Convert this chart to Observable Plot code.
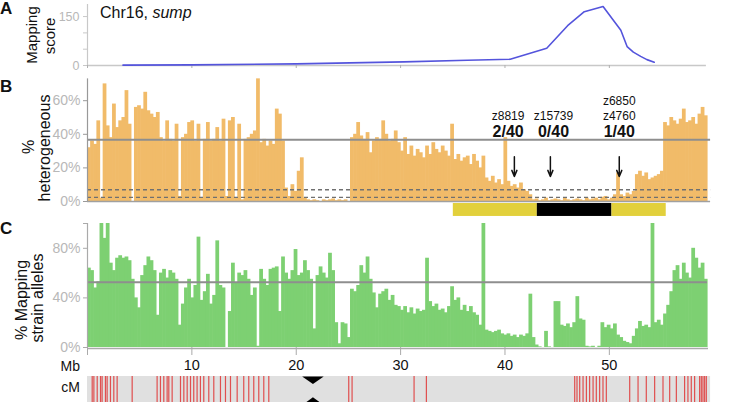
<!DOCTYPE html>
<html><head><meta charset="utf-8">
<script src="https://cdn.jsdelivr.net/npm/d3@7"></script>
<script src="https://cdn.jsdelivr.net/npm/@observablehq/plot@0.6"></script>
<style>
body{margin:0;background:#fff;}
#fig{position:relative;width:732px;height:402px;overflow:hidden;font-family:"Liberation Sans",Arial,Helvetica,sans-serif;}
#fig svg{position:absolute;left:0;}
</style></head><body><div id="fig"></div>
<script>
// ---------- data ----------
const binWidth = 0.3;          // Mb per bar
const chrLengthMb = 59.5;
const mbTicks = [0, 10, 20, 30, 40, 50];

// A: mapping score
const scoreMb  = [3.4, 10, 20, 30.3, 36.4, 40.5, 44.0, 46.0, 47.6, 49.4, 51.1, 51.7, 52.3, 53.0, 53.6, 54.3];
const scoreVal = [1, 2, 5, 11, 16, 19, 53, 122, 165, 181, 108, 58, 41, 28, 18, 10];
const scoreTicks = [0, 50, 100, 150];
const scoreLabels = [0, 150];

// B: % heterogeneous (one value per 0.3 Mb bin)
const hetValues = [
 32,36,34,48,2,70,45,38,58,44,
 48,50,66,46,0,56,57,55,65,54,
 52,50,53,38,36,48,37,36,46,3,
 38,40,47,48,36,46,2,37,47,36,
 37,44,36,49,3,48,50,2,46,1,
 37,38,40,42,73,35,37,33,36,34,
 55,52,36,8,3,10,6,18,26,2,
 1,0.5,1,0.5,0,1,0.5,1,1.5,0.5,
 1,0.5,1,0,38,40,47,39,37,41,
 29,36,38,37,48,40,36,37,42,35,
 30,38,28,33,27,31,29,26,33,28,
 35,31,29,33,30,27,46,25,28,24,
 26,27,22,28,24,20,27,14,12,15,
 11,13,10,38,12,9,10,8,11,7,
 6,4,1,1.5,0.5,1,2,0.5,1,1.5,
 1,0.5,2,1,0.5,1,1.5,1,0.5,2,
 1,1.5,2,1,2.5,3,1,2,4,17,
 4,3,5,4,6,16,18,15,17,13,
 14,15,16,18,47,45,50,48,46,49,
 55,47,48,50,46,52,56,51];
const hetThreshold = [36.8];
const hetDashed = [7, 2.5];
const hetTicks = [0, 20, 40, 60];

// critical interval bar
const intervalStart = [35.05, 43.1, 50.25];
const intervalEnd   = [43.1, 50.25, 55.45];
const intervalColor = ["#e2d03c", "#000000", "#e2d03c"];

// markers
const markerNames  = ["z8819", "z15739", "z6850\nz4760"];
const markerRatios = ["2/40", "0/40", "1/40"];
const markerTextMb = [40.3, 44.65, 50.95];
const markerArrowMb = [40.9, 44.35, 50.95];

// C: % mapping strain alleles
const mapValues = [
 64,62,48,53,100,88,100,68,62,72,
 74,72,73,70,55,40,32,58,66,73,
 70,62,26,60,63,56,62,60,55,18,
 35,48,55,40,50,89,38,45,59,35,
 42,86,50,48,0,29,68,52,60,58,
 62,55,42,48,1,63,55,50,63,64,
 65,29,73,60,55,62,79,58,60,70,
 62,55,15,58,65,60,56,76,62,20,
 3,20,19,8,47,45,50,66,60,73,
 55,44,32,43,45,47,38,42,34,33,
 30,33,28,32,27,31,29,30,72,37,
 33,35,30,31,28,33,49,38,40,30,
 34,29,33,28,26,18,100,14,13,12,
 13,14,11,10,11,9,10,8,10,9,
 11,43,8,2,0.5,0,13,0.5,0,37,
 37,18,17,19,16,20,41,23,22,1,
 0.5,1,0,1,20,16,18,15,19,10,
 8,5,4,3,9,15,21,17,18,16,
 100,20,22,18,27,34,45,62,66,55,
 68,60,56,80,72,64,68,55];
const mapThreshold = [52.7];
const mapTicks = [0, 40, 80, 100];

// cM track: recombinant marker positions (Mb) and centromere
const cmLinesMb = [0.45,0.61,0.93,1.25,1.4,1.72,1.88,2.2,2.52,2.84,4.28,6.67,6.99,7.31,7.63,7.79,8.11,
 8.91,9.23,9.55,9.87,10.18,10.5,10.82,11.14,11.62,12.1,12.74,13.22,13.7,14.34,14.97,15.45,15.93,16.41,16.89,17.37,
 25.03,25.35,31.29,32.47,46.68,46.9,47.16,47.48,47.8,48.11,48.44,48.75,49.07,49.39,49.71,
 51.95,52.75,53.54,54.34,55.14,55.78,56.42,57.21,57.53,57.85,58.17,58.65,58.81,58.97,59.13,59.29];
const centromereMb = [21.6];

// ---------- layout ----------
const W = 732, ML = 87, MR = 24;
const FONT = '"Liberation Sans", Arial, Helvetica, sans-serif';
const fig = document.getElementById("fig");
const baseStyle = {fontFamily: FONT, background: "transparent", overflow: "visible", maxWidth: "none"};
function place(svg, top) { svg.style.top = top + "px"; svg.style.position = "absolute"; fig.appendChild(svg); }
const xScale = {domain: [0, chrLengthMb], axis: null, label: null};
const overlap = 0.06; // bars touch their neighbours

// A
const scoreData = scoreMb.map((m, i) => ({mb: m, score: scoreVal[i]}));
place(Plot.plot({
  width: W, height: 70, marginLeft: ML, marginRight: MR, marginTop: 4, marginBottom: 5,
  x: xScale, y: {domain: [0, 187], axis: null, label: null}, style: baseStyle,
  marks: [
    Plot.ruleY([0], {x1: 0, x2: chrLengthMb - 0.2, stroke: "#c8c8c8", strokeWidth: 1.3}),
    Plot.ruleX([0], {y1: 0, y2: 187, stroke: "#c8c8c8", strokeWidth: 1.2}),
    Plot.axisX(mbTicks, {tickSize: 3, tickFormat: () => "", label: null, stroke: "#b0b0b0"}),
    Plot.axisY(scoreTicks, {tickSize: 4, tickPadding: 4, fontSize: 12.5, label: null,
      tickFormat: d => scoreLabels.includes(d) ? String(d) : "", stroke: "#c8c8c8", fill: "#b8b8b8"}),
    Plot.line(scoreData, {x: "mb", y: "score", stroke: "#5454dc", strokeWidth: 1.6})
  ]
}), 0);

// B
const hetData = hetValues.map((v, i) => ({x1: i * binWidth, x2: (i + 1) * binWidth + overlap, v}));
const intervals = intervalStart.map((s, i) => ({s, e: intervalEnd[i], c: intervalColor[i]}));
const markers = markerNames.map((n, i) => ({name: n, ratio: markerRatios[i], tx: markerTextMb[i], ax: markerArrowMb[i]}));
place(Plot.plot({
  width: W, height: 145, marginLeft: ML, marginRight: MR, marginTop: 0, marginBottom: 19,
  x: xScale, y: {domain: [0, 75], axis: null, label: null}, color: {type: "identity"}, style: baseStyle,
  marks: [
    Plot.rectY(hetData, {x1: "x1", x2: "x2", y: "v", fill: "#f1bb69"}),
    Plot.ruleY(hetThreshold, {x1: 0, x2: chrLengthMb + 0.2, stroke: "#8e8e8e", strokeWidth: 2}),
    Plot.ruleY(hetDashed, {x1: 0, x2: chrLengthMb + 0.2, stroke: "#707070", strokeWidth: 1.3, strokeDasharray: "4,3"}),
    Plot.ruleY([0], {x1: 0, x2: chrLengthMb + 0.2, stroke: "#a0a0a0", strokeWidth: 1.5}),
    Plot.ruleX([0], {y1: 0, y2: 73, stroke: "#999", strokeWidth: 1.2}),
    Plot.axisY(hetTicks, {tickSize: 4, tickPadding: 3, fontSize: 14, label: null, tickFormat: d => d + "%", stroke: "#999", fill: "#b8b8b8"}),
    Plot.rect(intervals, {x1: "s", x2: "e", y1: -1.2, y2: -8.9, fill: "c"}),
    Plot.text(markers, {x: "tx", y: 48.4, text: "name", lineAnchor: "bottom", lineHeight: 1.25, fontSize: 12, fill: "#111"}),
    Plot.text(markers, {x: "tx", y: 38.5, text: "ratio", lineAnchor: "bottom", fontSize: 16, fontWeight: "bold", fill: "#111"}),
    Plot.arrow(markers, {x1: "ax", x2: "ax", y1: 26.7, y2: 14.9, stroke: "#111", strokeWidth: 1.5, headLength: 7, headAngle: 45})
  ]
}), 75);

// C
const mapData = mapValues.map((v, i) => ({x1: i * binWidth, x2: (i + 1) * binWidth + overlap, v}));
place(Plot.plot({
  width: W, height: 157, marginLeft: ML, marginRight: MR, marginTop: 5, marginBottom: 28,
  x: xScale, y: {domain: [0, 100], axis: null, label: null}, style: baseStyle,
  marks: [
    Plot.rectY(mapData, {x1: "x1", x2: "x2", y: "v", fill: "#7dd072"}),
    Plot.ruleY(mapThreshold, {x1: 0, x2: chrLengthMb - 0.1, stroke: "#8e8e8e", strokeWidth: 2}),
    Plot.ruleY([0], {x1: 0, x2: chrLengthMb, stroke: "#aaa", strokeWidth: 1.5, dy: 1}),
    Plot.ruleX([0], {y1: 0, y2: 100, stroke: "#aaa", strokeWidth: 1.2}),
    Plot.axisY(mapTicks, {tickSize: 4, tickPadding: 3, fontSize: 14, label: null, tickFormat: d => d === 100 ? "" : d + "%", stroke: "#aaa", fill: "#b8b8b8"}),
    Plot.axisX(mbTicks, {tickSize: 8, tickPadding: 4, fontSize: 14.5, label: null, tickFormat: d => d === 0 ? "" : String(d), stroke: "#aaa", fill: "#111"})
  ]
}), 218);

// D: cM track
const c = centromereMb[0];
const tri = [
  {x: c - 1.03, y: 1, k: "top"}, {x: c + 1.03, y: 1, k: "top"}, {x: c, y: 0.71, k: "top"},
  {x: c - 1.03, y: -0.1, k: "bot"}, {x: c + 1.03, y: -0.1, k: "bot"}, {x: c, y: 0.2, k: "bot"}
];
place(Plot.plot({
  width: W, height: 27, marginLeft: ML, marginRight: MR, marginTop: 1, marginBottom: 0,
  x: xScale, y: {domain: [0, 1], axis: null, label: null}, style: baseStyle,
  marks: [
    Plot.rect([chrLengthMb], {x1: 0, x2: d => d + 0.2, y1: -0.2, y2: 1, fill: "#e0e0e0"}),
    Plot.ruleX(cmLinesMb, {y1: -0.2, y2: 1, stroke: "#e04f4f", strokeWidth: 1.2}),
    Plot.line(tri, {x: "x", y: "y", z: "k", fill: "#000", stroke: "none"})
  ]
}), 375);

// ---------- overlay labels ----------
const ov = d3.create("svg").attr("width", W).attr("height", 402)
  .style("top", "0px").style("font-family", FONT).style("pointer-events", "none");
function lab(x, y, t, size, opts = {}) {
  return ov.append("text").attr("x", x).attr("y", y).attr("font-size", size).attr("fill", opts.fill || "#111")
    .attr("font-weight", opts.bold ? "bold" : null).attr("text-anchor", opts.anchor || "start").text(t);
}
function vlab(x, y, t, size) {
  ov.append("text").attr("transform", `translate(${x},${y}) rotate(-90)`).attr("text-anchor", "middle")
    .attr("font-size", size).attr("fill", "#111").text(t);
}
lab(0, 14, "A", 17, {bold: true});
lab(0, 92, "B", 17, {bold: true});
lab(0, 234, "C", 17, {bold: true});
const title = ov.append("text").attr("x", 100).attr("y", 18).attr("font-size", 16).attr("fill", "#111");
title.append("tspan").text("Chr16, ");
title.append("tspan").attr("font-style", "italic").text("sump");
vlab(37, 35, "Mapping", 15);
vlab(55, 36, "score", 15);
vlab(34, 147, "%", 16);
vlab(50, 148, "heterogeneous", 16);
vlab(27, 300, "% Mapping", 16);
vlab(43, 298, "strain alleles", 16);
lab(80, 371, "Mb", 14, {anchor: "end"});
lab(80, 392, "cM", 14, {anchor: "end"});
place(ov.node(), 0);
</script></body></html>
